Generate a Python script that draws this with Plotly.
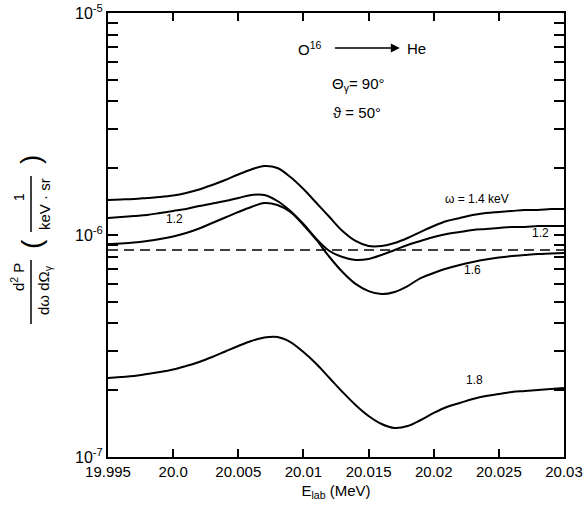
import plotly.graph_objects as go

# Energy grid (MeV), step 0.001
e_lab = [19.995, 19.996, 19.997, 19.998, 19.999, 20.000, 20.001, 20.002, 20.003, 20.004,
         20.005, 20.006, 20.007, 20.008, 20.009, 20.010, 20.011, 20.012, 20.013, 20.014,
         20.015, 20.016, 20.017, 20.018, 20.019, 20.020, 20.021, 20.022, 20.023, 20.024,
         20.025, 20.026, 20.027, 20.028, 20.029, 20.030]

# d2P/(dw dOmega) in units of 1e-6 1/(keV sr)
w14 = [1.438, 1.445, 1.453, 1.468, 1.483, 1.506, 1.546, 1.603, 1.680, 1.769,
       1.873, 1.973, 2.046, 2.004, 1.825, 1.611, 1.394, 1.205, 1.042, 0.940,
       0.892, 0.892, 0.920, 0.969, 1.032, 1.098, 1.156, 1.193, 1.231, 1.256,
       1.270, 1.283, 1.296, 1.296, 1.310, 1.310]
w12 = [1.193, 1.205, 1.218, 1.231, 1.256, 1.283, 1.310, 1.351, 1.386, 1.423,
       1.468, 1.514, 1.514, 1.423, 1.283, 1.121, 0.959, 0.847, 0.796, 0.772,
       0.780, 0.813, 0.856, 0.902, 0.940, 0.980, 1.010, 1.032, 1.053, 1.064,
       1.075, 1.087, 1.087, 1.098, 1.098, 1.098]
w16 = [0.911, 0.916, 0.925, 0.940, 0.959, 0.985, 1.021, 1.070, 1.133, 1.199,
       1.270, 1.337, 1.394, 1.365, 1.270, 1.109, 0.950, 0.796, 0.681, 0.602,
       0.559, 0.542, 0.554, 0.589, 0.640, 0.674, 0.706, 0.733, 0.756, 0.776,
       0.792, 0.804, 0.813, 0.821, 0.825, 0.830]
w18 = [0.2269, 0.2293, 0.2317, 0.2366, 0.2415, 0.2478, 0.2570, 0.2679, 0.2821, 0.2987,
       0.3162, 0.3331, 0.3454, 0.3472, 0.3296, 0.2971, 0.2624, 0.2269, 0.1963, 0.1715,
       0.1530, 0.1408, 0.1351, 0.1379, 0.1468, 0.1579, 0.1680, 0.1751, 0.1825, 0.1883,
       0.1922, 0.1963, 0.1983, 0.2004, 0.2025, 0.2046]
background = 0.856

x_tickvals = [19.995, 20.0, 20.005, 20.01, 20.015, 20.02, 20.025, 20.03]
x_ticktext = ["19.995", "20.0", "20.005", "20.01", "20.015", "20.02", "20.025", "20.03"]
y_major = [1e-7, 1e-6, 1e-5]
y_major_text = ["10<sup>-7</sup>", "10<sup>-6</sup>", "10<sup>-5</sup>"]
y_minor = [m * 10 ** k for k in (-7, -6) for m in range(2, 10)]

y_tickvals = y_major + y_minor
y_ticktext = y_major_text + [""] * len(y_minor)

scale = 1e-6
fig = go.Figure()
for ys in [w14, w12, w16, w18]:
    fig.add_trace(go.Scatter(x=e_lab, y=[v * scale for v in ys], mode="lines",
                             line=dict(color="black", width=2, shape="spline", smoothing=1.0),
                             showlegend=False, hoverinfo="skip"))
fig.add_trace(go.Scatter(x=[e_lab[0], e_lab[-1]], y=[background * scale] * 2, mode="lines",
                         line=dict(color="black", width=1.5, dash="10px,6px"),
                         showlegend=False, hoverinfo="skip"))

FONT = "Liberation Sans, Arial, sans-serif"
fig.update_layout(
    width=588, height=518,
    margin=dict(l=108, r=24, t=13, b=61),
    paper_bgcolor="white", plot_bgcolor="white",
    font=dict(family=FONT, color="black", size=14),
    xaxis=dict(range=[19.995, 20.03], tickvals=x_tickvals, ticktext=x_ticktext,
               ticks="inside", ticklen=8, tickwidth=2, tickcolor="black",
               showline=True, linecolor="black", linewidth=2, mirror="ticks",
               showgrid=False, zeroline=False, tickfont=dict(size=15), automargin=False,
               ticklabeloverflow="allow",
               title=dict(text="E<sub>lab</sub> (MeV)", font=dict(size=15), standoff=6)),
    yaxis=dict(type="log", range=[-7, -5], tickvals=y_tickvals, ticktext=y_ticktext,
               ticks="inside", ticklen=10, tickwidth=2, tickcolor="black",
               showline=True, linecolor="black", linewidth=2, mirror="ticks",
               showgrid=False, zeroline=False, tickfont=dict(size=16), automargin=False,
               ticklabeloverflow="allow"),
)

def A(x, ylog, text, size=13, **kw):
    fig.add_annotation(x=x, y=ylog, xref="x", yref="y", text=text, showarrow=False,
                       font=dict(size=size, family=FONT, color="black"), **kw)

A(20.0105, -5.158, "O<sup>16</sup>", size=15)
A(20.0178, -5.158, "He", size=15, xanchor="left")
fig.add_annotation(x=20.0174, y=-5.158, ax=20.0123, ay=-5.158, xref="x", yref="y",
                   axref="x", ayref="y", text="", showarrow=True, arrowhead=2,
                   arrowsize=1.2, arrowwidth=1.5, arrowcolor="black")
A(20.0142, -5.324, "Θ<sub>γ</sub>= 90°", size=15)
A(20.0141, -5.446, "ϑ = 50°", size=15)
A(20.0233, -5.838, "ω = 1.4 keV", size=12)
A(20.0001, -5.928, "1.2", size=12)
A(20.0282, -5.991, "1.2", size=12)
A(20.0230, -6.158, "1.6", size=12)
A(20.0231, -6.653, "1.8", size=12)

# y-axis label (rotated fractions), positioned in pixel terms of the plot box
def P(px, py, text, size=14):
    fig.add_annotation(x=(px - 108) / 456, y=(457 - py) / 444, xref="paper", yref="paper",
                       xanchor="center", yanchor="middle",
                       text=text, showarrow=False, textangle=-90,
                       font=dict(size=size, family=FONT, color="black"))

P(18, 277, "d<sup>2</sup> P", size=15)
P(44, 290, "dω dΩ<sub>γ</sub>", size=15)
P(19, 197, "1", size=14)
P(44, 204, "keV · sr", size=15)
P(31, 244, "(", size=28)
P(31, 160, ")", size=28)
for y0, y1 in [(260, 324), (176, 232)]:
    fig.add_shape(type="line", xref="paper", yref="paper",
                  x0=(31 - 108) / 456, x1=(31 - 108) / 456,
                  y0=(457 - y0) / 444, y1=(457 - y1) / 444,
                  line=dict(color="black", width=1.5))

fig.write_html("out.html", config={"displayModeBar": False},
               post_script="document.body.style.margin='0';document.body.style.overflow='hidden';")
